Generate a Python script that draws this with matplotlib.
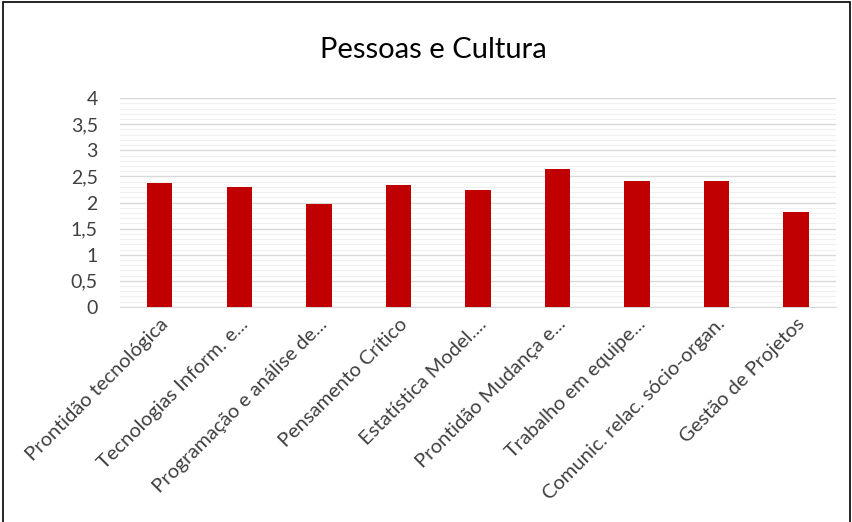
import matplotlib.pyplot as plt
import numpy as np
from matplotlib.patches import Rectangle

categorias = ["Prontidão tecnológica", "Tecnologias Inform. e...", "Programação e análise de...",
              "Pensamento Crítico", "Estatística Model....", "Prontidão Mudança e...",
              "Trabalho em equipe...", "Comunic. relac. sócio-organ.", "Gestão de Projetos"]
valores = [2.37, 2.30, 1.97, 2.33, 2.24, 2.64, 2.42, 2.42, 1.81]
ticks_y = [0, 0.5, 1, 1.5, 2, 2.5, 3, 3.5, 4]
ticks_lbl = ["0", "0,5", "1", "1,5", "2", "2,5", "3", "3,5", "4"]

plt.rcParams['font.family'] = ['Lato', 'DejaVu Sans']

fig = plt.figure(figsize=(8.53, 5.22), dpi=100)
ax = fig.add_axes([0.1407, 0.412, 0.839, 0.400])

x = np.arange(len(categorias))
ax.bar(x, valores, width=0.32, color='#C00000', zorder=3)

ax.set_ylim(0, 4)
ax.set_xlim(-0.5, len(categorias) - 0.5)
ax.set_yticks(ticks_y)
ax.set_yticklabels(ticks_lbl, fontsize=14, color='#404040')
ax.set_yticks(np.arange(0, 4.01, 0.1), minor=True)
ax.grid(axis='y', which='major', color='#D9D9D9', linewidth=1.0, zorder=0)
ax.grid(axis='y', which='minor', color='#F0F0F0', linewidth=0.8, zorder=0)
ax.tick_params(axis='y', which='both', length=0, pad=16)
ax.tick_params(axis='x', length=0, pad=6)
ax.set_xticks(x)
ax.set_xticklabels(categorias, rotation=45, ha='right', rotation_mode='anchor',
                   fontsize=14.5, color='#404040')
for s in ['top', 'right', 'left']:
    ax.spines[s].set_visible(False)
ax.spines['bottom'].set_color('#D9D9D9')

fig.text(0.508, 0.905, "Pessoas e Cultura", ha='center', va='center', fontsize=21, color='#000000')

fig.patches.append(Rectangle((0.004, -0.01), 0.993, 1.006, transform=fig.transFigure,
                             fill=False, edgecolor='#000000', linewidth=1.2))

fig.savefig("out.png", dpi=100)
